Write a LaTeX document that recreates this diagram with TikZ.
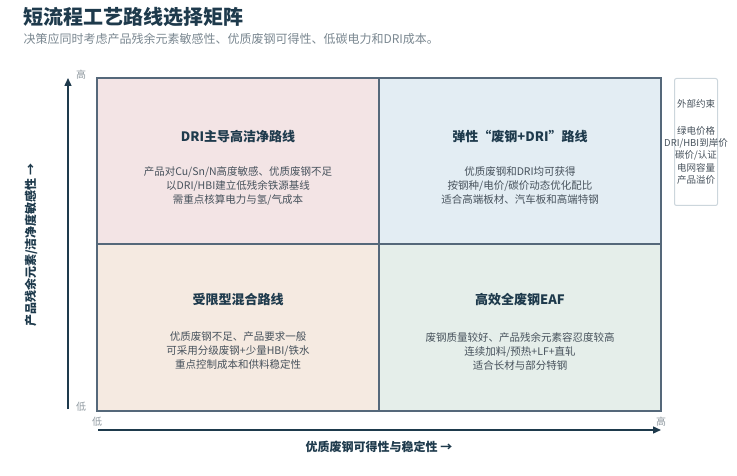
\documentclass[tikz,border=0pt]{standalone}
\usepackage{fontspec}
\setmainfont{Noto Sans CJK SC}
\usetikzlibrary{arrows.meta}
\definecolor{titlecol}{HTML}{1E3A4C}
\definecolor{subcol}{HTML}{7A8790}
\definecolor{bodycol}{HTML}{47525C}
\definecolor{tickcol}{HTML}{8E989F}
\definecolor{gridcol}{HTML}{55687A}
\definecolor{tlfill}{HTML}{F3E4E5}
\definecolor{trfill}{HTML}{E3EDF3}
\definecolor{blfill}{HTML}{F5EAE1}
\definecolor{brfill}{HTML}{E5EEEA}
\definecolor{boxcol}{HTML}{CCD6DC}
\begin{document}
\begin{tikzpicture}[x=1pt, y=-1pt,
    quad/.style={draw=gridcol, line width=1.3pt},
    quadtitle/.style={font=\fontsize{13}{15}\selectfont\bfseries, text=titlecol},
    quadbody/.style={font=\fontsize{10.5}{14}\selectfont, text=bodycol, align=center},
    tick/.style={font=\fontsize{10}{12}\selectfont, text=tickcol},
    axis/.style={draw=titlecol, line width=1.4pt, -{Triangle[length=8pt,width=7pt]}},
    axislabel/.style={font=\fontsize{12}{14}\selectfont\bfseries, text=titlecol}]
    \useasboundingbox (0,0) rectangle (737,476);
    % title
    \node[anchor=west, font=\fontsize{20}{24}\selectfont\bfseries, text=titlecol] (title) at (20,17) {短流程工艺路线选择矩阵};
    \node[anchor=west, font=\fontsize{12}{14}\selectfont, text=subcol] (subtitle) at (20,39) {决策应同时考虑产品残余元素敏感性、优质废钢可得性、低碳电力和DRI成本。};
    % quadrants
    \fill[tlfill] (97,78) rectangle (379,244);
    \fill[trfill] (379,78) rectangle (661,244);
    \fill[blfill] (97,244) rectangle (379,411);
    \fill[brfill] (379,244) rectangle (661,411);
    \draw[quad] (97,78) rectangle (661,411);
    \draw[quad] (379,78) -- (379,411);
    \draw[quad] (97,244) -- (661,244);
    \node[quadtitle] (tlt) at (238,137) {DRI主导高洁净路线};
    \node[quadbody] (tlb) at (238,186) {产品对Cu/Sn/N高度敏感、优质废钢不足\\以DRI/HBI建立低残余铁源基线\\需重点核算电力与氢/气成本};
    \node[quadtitle] (trt) at (520,137) {弹性“废钢+DRI”路线};
    \node[quadbody] (trb) at (520,186) {优质废钢和DRI均可获得\\按钢种/电价/碳价动态优化配比\\适合高端板材、汽车板和高端特钢};
    \node[quadtitle] (blt) at (238,300) {受限型混合路线};
    \node[quadbody] (blb) at (238,351) {优质废钢不足、产品要求一般\\可采用分级废钢+少量HBI/铁水\\重点控制成本和供料稳定性};
    \node[quadtitle] (brt) at (520,300) {高效全废钢EAF};
    \node[quadbody] (brb) at (520,351) {废钢质量较好、产品残余元素容忍度较高\\连续加料/预热+LF+直轧\\适合长材与部分特钢};
    % axes
    \coordinate (y0) at (68,409);
    \coordinate (y1) at (68,78);
    \coordinate (x0) at (98,430);
    \coordinate (x1) at (661,430);
    \draw[axis] (y0) -- (y1);
    \draw[axis] (x0) -- (x1);
    \node[tick] (yhi) at (81,75) {高};
    \node[tick] (ylo) at (81,407) {低};
    \node[tick] (xlo) at (97,422) {低};
    \node[tick] (xhi) at (661,422) {高};
    \node[axislabel] (xlab) at (379,447) {优质废钢可得性与稳定性 →};
    \node[axislabel, rotate=90] (ylab) at (31,245) {产品残余元素/洁净度敏感性 →};
    % side box
    \node[draw=boxcol, line width=1pt, rounded corners=2pt, fill=white, anchor=north west,
          minimum width=43pt, minimum height=127pt] (side) at (674,78) {};
    \node[font=\fontsize{9.5}{12.3}\selectfont, text=bodycol, align=center] (sidetext) at (side.center)
        {外部约束\\[14pt]绿电价格\\DRI/HBI到岸价\\碳价/认证\\电网容量\\产品溢价};
\end{tikzpicture}
\end{document}
